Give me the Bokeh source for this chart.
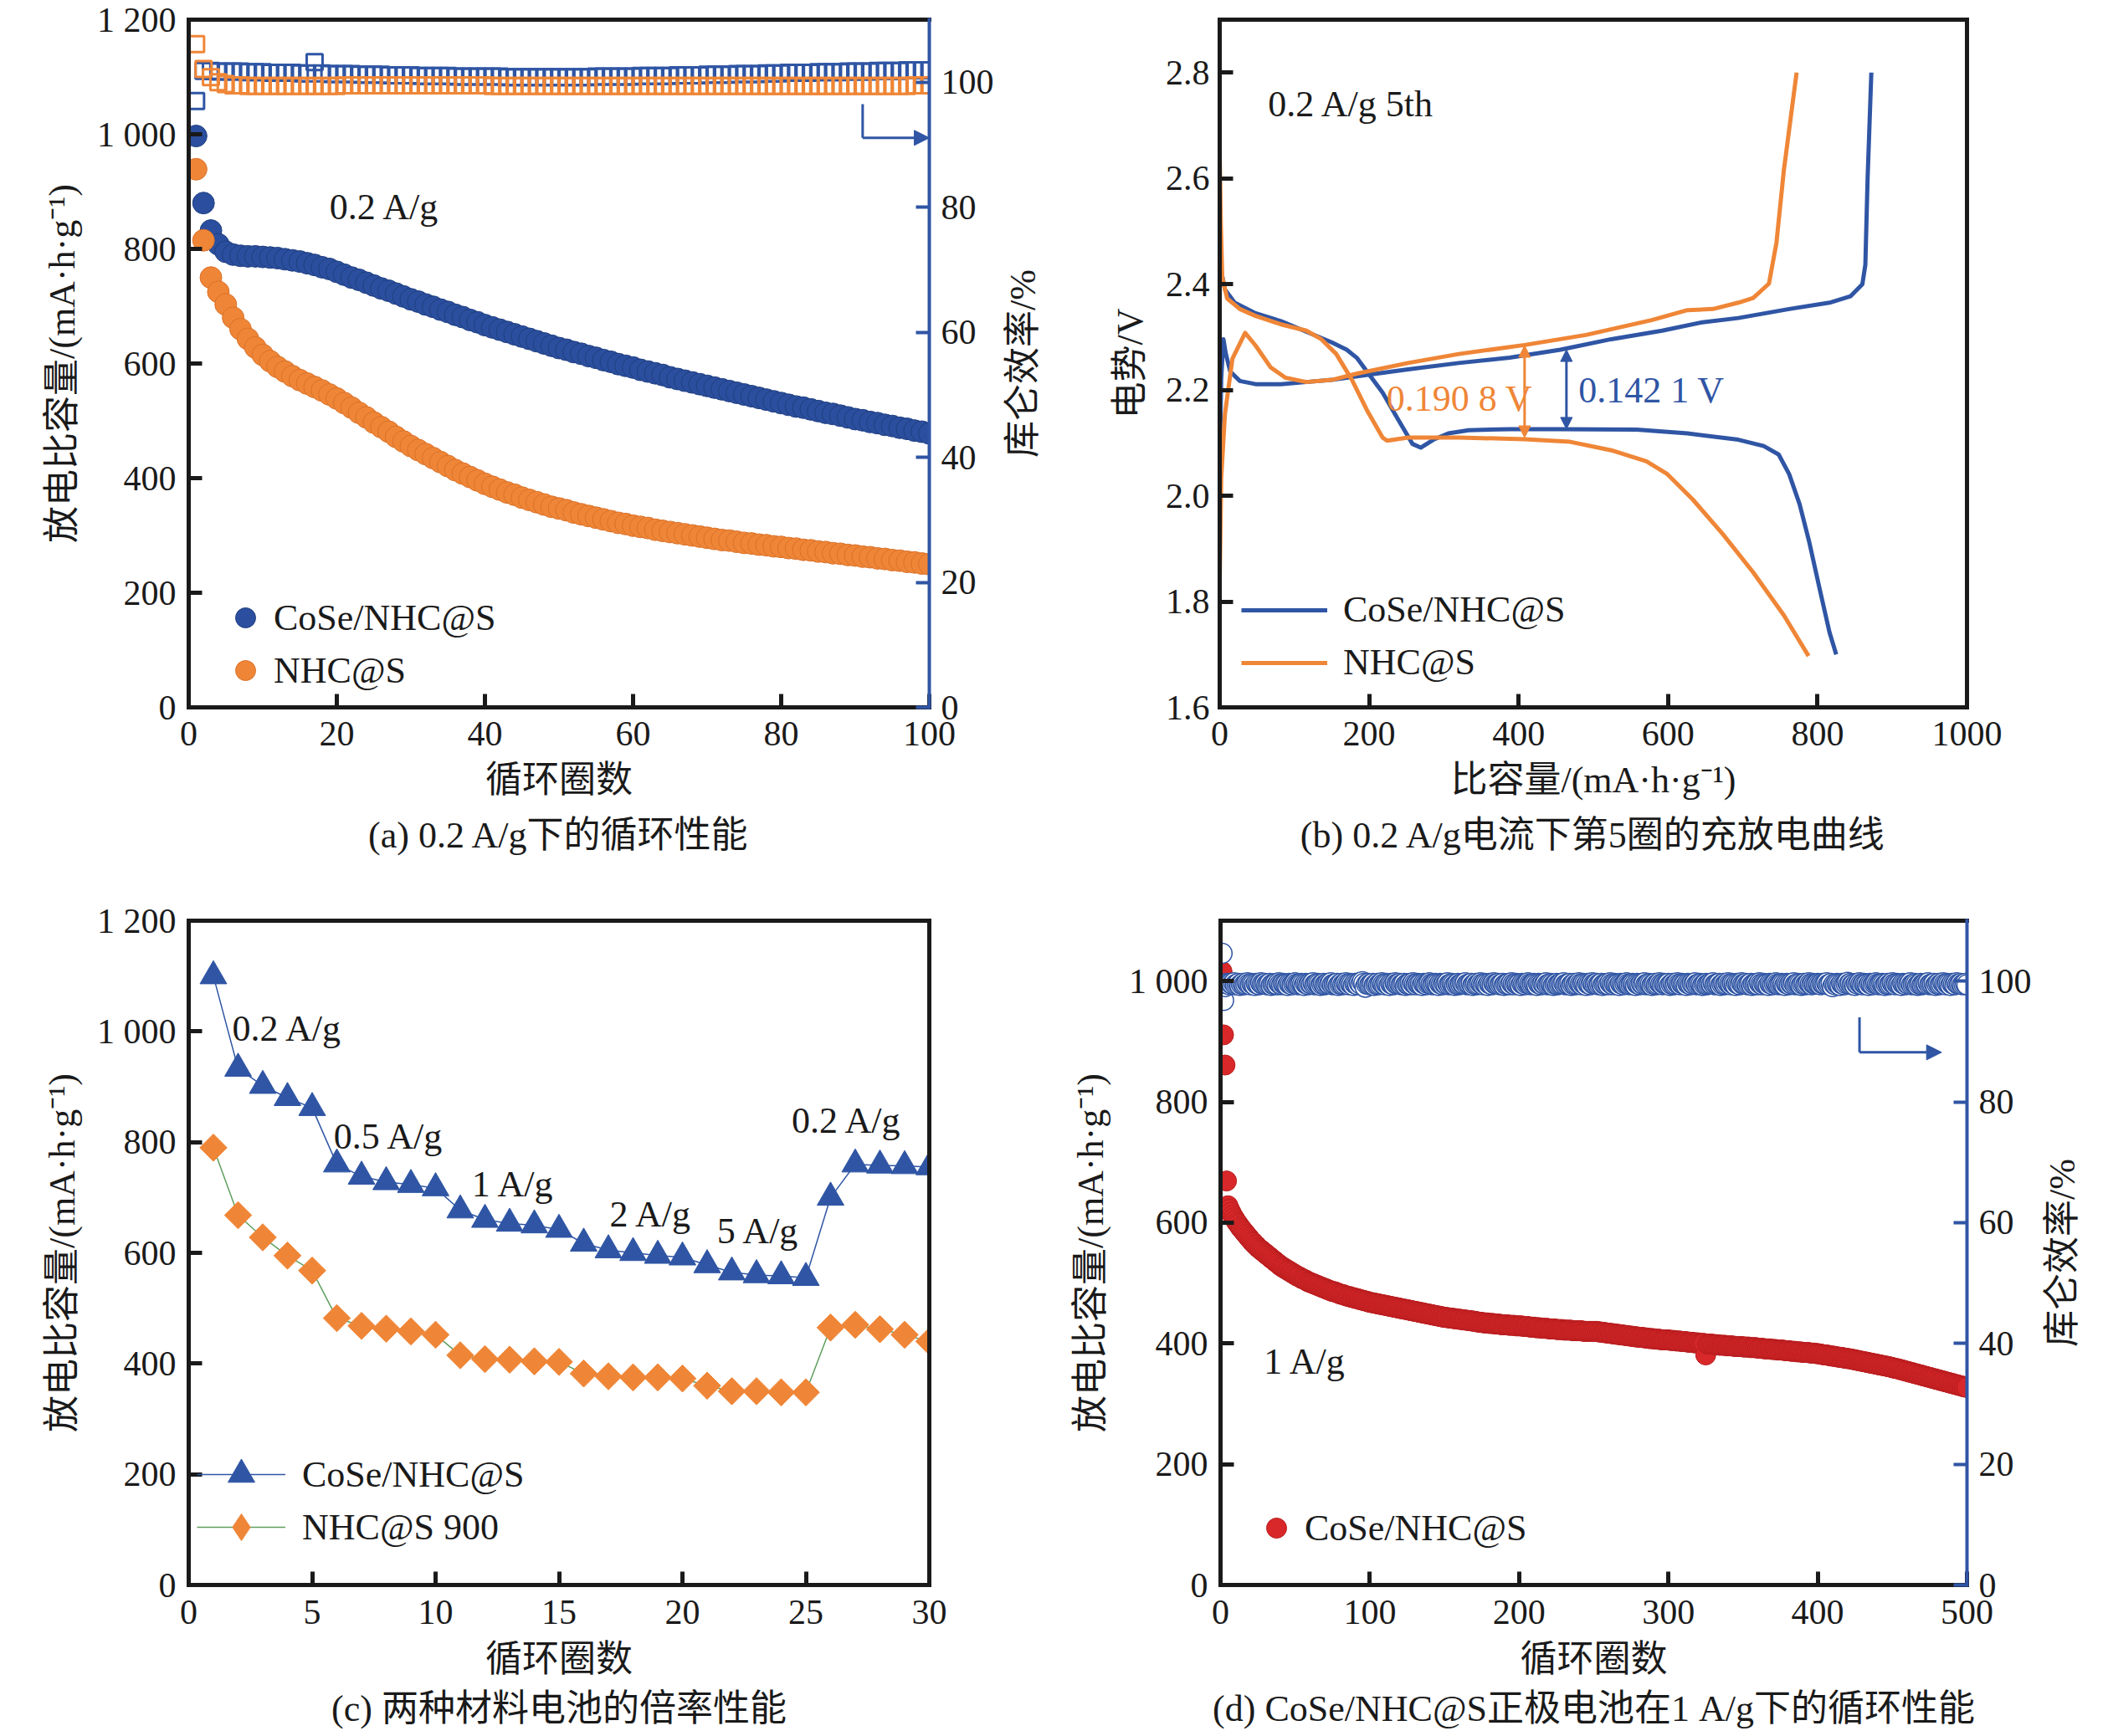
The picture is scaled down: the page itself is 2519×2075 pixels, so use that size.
import math
from bokeh.plotting import figure
from bokeh.models import (Range1d, LinearAxis, FixedTicker, Legend, LegendItem,
                          Label, Arrow, NormalHead, Title, NumeralTickFormatter)
from bokeh.layouts import row, column
from bokeh.embed import file_html
from bokeh.resources import INLINE

FONT = "Liberation Serif, Noto Sans CJK SC"
FS_TICK = "42px"
FS = "44px"
INK = "#1a1a1a"
BLUE = "#2b4f9e"
BLUE_L = "#2f55a4"
ORANGE = "#ef8637"
RED = "#d9282a"
GREEN = "#5e9f5e"


def nums(s):
    return [float(v) for v in s.split()]


# ---------------- (a) cycling at 0.2 A/g ----------------
CAP_A_CO = nums("""
997 880 832 808 795 790 788 787 787 786
785 784 782 780 778 775 772 768 765 760
755 750 746 741 736 731 727 722 717 712
708 703 699 694 690 685 681 676 672 667
663 659 655 651 647 643 639 635 631 627
624 620 617 613 610 606 603 599 596 593
589 586 583 580 576 573 570 567 564 561
558 555 552 549 546 543 540 537 534 531
528 525 523 520 517 514 512 509 506 503
501 498 496 493 491 488 486 483 481 478
""")
CAP_A_NHC = nums("""
939 815 750 725 703 680 660 643 628 615
604 594 586 578 571 565 559 553 546 539
531 523 514 506 497 489 481 472 464 456
449 442 435 428 421 414 408 402 396 390
385 380 375 371 366 362 358 354 350 347
344 340 337 334 331 328 325 322 320 317
315 313 310 308 306 304 302 300 298 296
294 292 291 289 287 286 284 283 281 280
278 277 275 274 272 271 269 268 266 265
263 262 260 259 257 256 254 253 251 250
""")
CE_A_CO = nums("""
97.0 101.8 101.8 101.7 101.7 101.7 101.7 101.6 101.6 101.6
101.5 101.5 101.5 101.5 101.4 101.4 103.2 101.4 101.3 101.3
101.3 101.3 101.2 101.2 101.2 101.2 101.1 101.1 101.1 101.1
101.0 101.0 101.0 101.0 101.0 100.9 100.9 100.9 100.9 100.9
100.9 100.9 100.8 100.8 100.8 100.8 100.8 100.8 100.8 100.8
100.8 100.8 100.8 100.8 100.9 100.9 100.9 100.9 100.9 100.9
101.0 101.0 101.0 101.0 101.0 101.1 101.1 101.1 101.1 101.2
101.2 101.2 101.2 101.3 101.3 101.3 101.3 101.4 101.4 101.4
101.5 101.5 101.5 101.5 101.6 101.6 101.6 101.6 101.7 101.7
101.7 101.7 101.8 101.8 101.8 101.8 101.9 101.9 101.9 101.9
""")
CE_A_NHC = nums("""
106.1 102.1 100.8 100.0 99.7 99.5 99.5 99.4 99.4 99.4
99.4 99.4 99.4 99.4 99.4 99.4 99.4 99.4 99.4 99.4
99.5 99.5 99.5 99.5 99.5 99.5 99.5 99.5 99.5 99.5
99.5 99.5 99.5 99.5 99.5 99.5 99.5 99.5 99.5 99.5
99.4 99.4 99.4 99.4 99.4 99.4 99.4 99.4 99.4 99.4
99.4 99.4 99.4 99.4 99.4 99.4 99.4 99.4 99.4 99.4
99.4 99.4 99.4 99.4 99.4 99.4 99.4 99.4 99.4 99.4
99.4 99.4 99.4 99.4 99.4 99.4 99.4 99.4 99.4 99.4
99.4 99.4 99.4 99.4 99.4 99.4 99.4 99.4 99.4 99.4
99.4 99.4 99.4 99.4 99.4 99.4 99.4 99.5 99.5 99.5
""")
CYC_A = list(range(1, len(CAP_A_CO) + 1))

# ---------------- (b) 5th charge/discharge at 0.2 A/g ----------------
CO_DIS_Q = [0, 7, 20, 48, 82, 116, 150, 170, 184, 197, 218, 238, 258, 269, 286,
            306, 333, 388, 456, 558, 626, 694, 728, 748, 762, 776, 789, 803, 816, 825]
CO_DIS_V = [2.44, 2.39, 2.365, 2.345, 2.33, 2.31, 2.29, 2.276, 2.26, 2.235, 2.195,
            2.146, 2.098, 2.091, 2.106, 2.118, 2.124, 2.126, 2.126, 2.125, 2.118,
            2.106, 2.094, 2.078, 2.041, 1.984, 1.912, 1.823, 1.742, 1.70]
CO_CHG_Q = [0, 2, 5, 8, 14, 27, 48, 82, 116, 150, 184, 252, 320, 388, 456, 524,
            592, 646, 694, 762, 816, 844, 860, 864, 867, 872]
CO_CHG_V = [2.05, 2.22, 2.296, 2.27, 2.235, 2.217, 2.211, 2.211, 2.215, 2.219,
            2.226, 2.239, 2.251, 2.261, 2.276, 2.296, 2.312, 2.328, 2.336, 2.353,
            2.365, 2.377, 2.40, 2.437, 2.6, 2.8]
NHC_DIS_Q = [0, 1.4, 3.4, 10, 27, 48, 82, 116, 136, 156, 177, 197, 218, 224, 252,
             320, 408, 469, 524, 571, 599, 633, 673, 714, 755, 788]
NHC_DIS_V = [2.648, 2.52, 2.413, 2.373, 2.353, 2.34, 2.324, 2.312, 2.296, 2.268,
             2.219, 2.162, 2.11, 2.104, 2.11, 2.11, 2.107, 2.102, 2.086, 2.065,
             2.041, 1.993, 1.928, 1.855, 1.774, 1.697]
NHC_CHG_Q = [0, 2, 7, 17, 34, 48, 68, 88, 116, 150, 184, 252, 320, 408, 490, 578,
             626, 660, 694, 714, 735, 745, 755, 772]
NHC_CHG_V = [1.839, 2.033, 2.154, 2.259, 2.308, 2.284, 2.243, 2.223, 2.215, 2.219,
             2.231, 2.251, 2.268, 2.285, 2.304, 2.332, 2.351, 2.353, 2.365, 2.374,
             2.401, 2.478, 2.616, 2.8]
GAP_NHC = (408, 2.11, 2.284)   # x, low, high of the orange gap marker
GAP_CO = (464, 2.126, 2.276)

# ---------------- (c) rate performance ----------------
CYC_C = list(range(1, 31))
RATE_CO = [1100, 933, 902, 880, 862, 760, 738, 728, 723, 717,
           677, 660, 653, 650, 642, 617, 605, 600, 595, 592,
           578, 565, 560, 558, 555, 700, 760, 758, 757, 755]
RATE_NHC = [790, 668, 628, 595, 568, 482, 468, 463, 458, 452,
            415, 408, 407, 404, 403, 382, 377, 375, 375, 373,
            360, 350, 350, 348, 348, 465, 470, 462, 452, 440]
RATE_LABELS = ["0.2 A/g", "0.5 A/g", "1 A/g", "2 A/g", "5 A/g", "0.2 A/g"]
RATE_LABEL_X = [1.76, 5.87, 11.47, 17.05, 21.4, 24.42]
RATE_LABEL_Y = [1005, 810, 724, 669, 639, 839]

# ---------------- (d) long cycling at 1 A/g ----------------
CAP_D = nums("""
1016 911 861 669 628 622 617 612 608 604
600 597 593 590 587 584 581 578 575 572
569 567 564 562 559 557 555 553 551 549
547 545 543 541 539 537 535 533 531 529
527 526 524 523 521 520 518 517 515 514
512 511 510 508 507 506 505 503 502 501
500 499 498 497 496 495 494 493 492 491
490 489 488 487 486 486 485 484 483 482
481 481 480 479 478 478 477 476 476 475
474 474 473 472 472 471 470 470 469 468
468 467 467 466 466 465 465 464 464 463
463 462 462 461 461 460 460 459 459 458
458 457 457 456 456 455 455 454 454 453
453 452 452 451 451 450 450 449 449 448
448 447 447 446 446 445 445 444 444 443
443 443 442 442 442 441 441 441 440 440
440 439 439 439 438 438 438 437 437 437
436 436 435 435 435 434 434 434 434 433
433 433 433 432 432 432 432 431 431 431
431 431 430 430 430 430 430 429 429 429
429 429 428 428 428 428 427 427 427 427
426 426 426 426 425 425 425 425 425 424
424 424 424 424 423 423 423 423 423 422
422 422 422 422 422 421 421 421 421 421
421 421 420 420 420 420 420 420 420 420
420 420 419 419 419 418 418 418 417 417
417 416 416 416 415 415 415 414 414 414
413 413 413 412 412 412 411 411 411 410
410 410 410 409 409 409 408 408 408 408
407 407 407 407 406 406 406 406 406 406
405 405 405 405 404 404 404 404 403 403
403 403 402 402 402 402 401 401 401 401
400 400 400 400 381 399 399 399 399 398
398 398 398 397 397 397 397 397 396 396
396 396 396 395 395 395 395 395 395 394
394 394 394 394 393 393 393 393 393 392
392 392 392 391 391 391 391 391 390 390
390 390 389 389 389 389 389 388 388 388
388 387 387 387 387 386 386 386 386 385
385 385 385 385 384 384 384 384 383 383
383 382 382 381 381 381 380 380 379 379
379 378 378 377 377 377 376 376 375 375
375 374 374 373 373 372 372 371 371 370
370 369 369 368 368 367 367 366 366 365
365 364 364 363 363 362 362 361 361 360
359 359 358 358 357 356 356 355 354 354
353 352 352 351 350 350 349 348 348 347
346 346 345 344 344 343 342 342 341 340
340 339 338 338 337 336 336 335 334 334
333 332 332 331 330 330 329 328 328 327
""")
CE_D = nums("""
104.6 96.8 99.1 99.6 99.5 99.4 99.6 99.5 99.7 99.4 99.5 99.6 99.3 99.5 99.6 99.4 99.5 99.7 99.5 99.4
99.6 99.5 99.3 99.6 99.5 99.4 99.7 99.5 99.5 99.6 99.4 99.5 99.6 99.3 99.5 99.5 99.6 99.4 99.7 99.5
99.4 99.6 99.5 99.5 99.3 99.6 99.5 99.4 99.6 99.7 99.5 99.4 99.5 99.6 99.5 99.3 99.6 99.5 99.4 99.6
99.5 99.7 99.4 99.5 99.6 99.5 99.3 99.5 99.6 99.4 99.5 99.6 99.5 99.7 99.4 99.5 99.5 99.6 99.3 99.5
99.6 99.4 99.5 99.7 99.5 99.4 99.6 99.5 99.3 99.6 99.5 99.4 99.7 99.5 99.9 99.6 99.0 99.5 99.6 99.4
99.5 99.6 99.3 99.5 99.6 99.4 99.5 99.7 99.5 99.4 99.6 99.5 99.3 99.6 99.5 99.4 99.7 99.5 99.5 99.6
99.4 99.5 99.6 99.3 99.5 99.5 99.6 99.4 99.7 99.5 99.4 99.6 99.5 99.5 99.3 99.6 99.5 99.4 99.6 99.7
99.5 99.4 99.5 99.6 99.5 99.3 99.6 99.5 99.4 99.6 99.5 99.7 99.4 99.5 99.6 99.5 99.3 99.5 99.6 99.4
99.5 99.6 99.5 99.7 99.4 99.5 99.5 99.6 99.3 99.5 99.6 99.4 99.5 99.7 99.5 99.4 99.6 99.5 99.3 99.6
99.5 99.4 99.7 99.5 99.5 99.6 99.4 99.5 99.6 99.3 99.5 99.5 99.6 99.4 99.7 99.5 99.4 99.6 99.5 99.5
99.3 99.6 99.5 99.4 99.6 99.7 99.5 99.4 99.5 99.6 99.5 99.3 99.6 99.5 99.4 99.6 99.5 99.7 99.4 99.5
99.6 99.5 99.3 99.5 99.6 99.4 99.5 99.6 99.5 99.7 99.4 99.5 99.5 99.6 99.3 99.5 99.6 99.4 99.5 99.7
99.5 99.4 99.6 99.5 99.3 99.6 99.5 99.4 99.7 99.5 99.5 99.6 99.4 99.5 99.6 99.3 99.5 99.5 99.6 99.4
99.7 99.5 99.4 99.6 99.5 99.5 99.3 99.6 99.5 99.4 99.6 99.7 99.5 99.4 99.5 99.6 99.5 99.3 99.6 99.5
99.4 99.6 99.5 99.7 99.4 99.5 99.6 99.5 99.3 99.5 99.6 99.4 99.5 99.7 99.5 99.4 99.6 99.5 99.5 99.6
99.3 99.5 99.6 99.4 99.5 99.7 99.5 99.4 99.6 99.5 99.5 99.3 99.6 99.5 99.4 99.6 99.5 99.7 99.4 99.5
99.6 99.5 99.3 99.5 99.6 99.4 99.5 99.6 99.5 99.7 99.4 99.5 99.5 99.6 99.3 99.5 99.6 99.4 99.5 99.7
99.5 99.4 99.6 99.5 99.3 99.6 99.5 99.4 99.7 99.5 99.5 99.6 99.4 99.5 99.6 99.3 99.5 99.5 99.6 99.4
99.7 99.5 99.4 99.6 99.5 99.5 99.3 99.6 99.5 99.4 99.6 99.7 99.5 99.4 99.5 99.6 99.5 99.3 99.6 99.5
99.4 99.6 99.5 99.7 99.4 99.5 99.6 99.5 99.3 99.5 99.6 99.4 99.5 99.7 99.5 99.4 99.6 99.5 99.5 99.6
99.5 99.4 99.6 99.5 99.5 99.7 99.4 99.5 99.6 99.1 99.5 99.4 99.6 99.5 99.3 99.6 99.5 99.4 99.6 99.8
99.5 99.6 99.4 99.5 99.3 99.6 99.5 99.7 99.5 99.4 99.6 99.5 99.5 99.3 99.6 99.5 99.4 99.6 99.7 99.5
99.4 99.5 99.6 99.5 99.3 99.5 99.6 99.4 99.5 99.7 99.5 99.4 99.6 99.5 99.5 99.3 99.6 99.5 99.4 99.6
99.5 99.7 99.4 99.5 99.6 99.5 99.3 99.5 99.6 99.4 99.5 99.6 99.5 99.7 99.4 99.5 99.5 99.6 99.3 99.5
99.6 99.4 99.5 99.7 99.5 99.4 99.6 99.5 99.3 99.6 99.5 99.4 99.7 99.5 99.5 99.6 99.4 99.5 99.6 99.4
""")
CYC_D_CAP = list(range(1, len(CAP_D) + 1))
CYC_D_CE = list(range(1, len(CE_D) + 1))

YLAB_CAP = "放电比容量/(mA·h·g⁻¹)"
YLAB_CE = "库仑效率/%"
XLAB_CYC = "循环圈数"


# ---------------- helpers ----------------
def make_fig(w, h, xr, yr, bl, br, bt, bb):
    p = figure(width=w, height=h, x_range=Range1d(*xr), y_range=Range1d(*yr),
               output_backend="svg", toolbar_location=None,
               min_border_left=bl, min_border_right=br,
               min_border_top=bt, min_border_bottom=bb)
    p.outline_line_color = None
    p.xgrid.visible = False
    p.ygrid.visible = False
    p.background_fill_color = "white"
    p.border_fill_color = "white"
    return p


def style_axis(ax, ticks, label="", color=INK, lw=5, overrides=None,
               lab_standoff=12, title_standoff=10, fmt=None):
    ax.ticker = FixedTicker(ticks=ticks)
    ax.axis_line_color = color
    ax.axis_line_width = lw
    ax.axis_line_cap = "square"
    ax.major_tick_line_color = color
    ax.major_tick_line_width = lw
    ax.major_tick_in = 16
    ax.major_tick_out = 0
    ax.minor_tick_line_color = None
    ax.major_label_text_font = FONT
    ax.major_label_text_font_size = FS_TICK
    ax.major_label_text_color = INK
    ax.major_label_standoff = lab_standoff
    ax.axis_label = label
    ax.axis_label_text_font = FONT
    ax.axis_label_text_font_size = FS
    ax.axis_label_text_font_style = "normal"
    ax.axis_label_text_color = INK
    ax.axis_label_standoff = title_standoff
    if overrides:
        ax.major_label_overrides = overrides
    if fmt is not None:
        ax.formatter = fmt


def edge(p, side, color=INK, lw=5, **kw):
    ax = LinearAxis(ticker=FixedTicker(ticks=[]), axis_line_color=color,
                    axis_line_width=lw, axis_line_cap="square",
                    major_tick_line_color=None, minor_tick_line_color=None,
                    major_label_text_font_size="0px", **kw)
    p.add_layout(ax, side)
    return ax


def right_axis(p, color=BLUE_L):
    ax = LinearAxis(y_range_name="ce")
    style_axis(ax, [0, 20, 40, 60, 80, 100], label="", color=color, lw=4,
               lab_standoff=14)
    p.add_layout(ax, "right")
    return ax


def label_strip(w, h, bl, br, bt, bb, text, standoff):
    """Narrow strip whose (left-side) axis title reads bottom-to-top, used as
    the title of the right-hand efficiency axis of the panel to its left."""
    q = figure(width=w, height=h, x_range=Range1d(0, 1), y_range=Range1d(0, 1),
               output_backend="svg", toolbar_location=None,
               min_border_left=bl, min_border_right=br,
               min_border_top=bt, min_border_bottom=bb)
    q.outline_line_color = None
    q.xgrid.visible = False
    q.ygrid.visible = False
    q.xaxis.visible = False
    q.background_fill_color = "white"
    q.border_fill_color = "white"
    ax = q.yaxis[0]
    ax.ticker = FixedTicker(ticks=[])
    ax.axis_line_color = None
    ax.major_tick_line_color = None
    ax.minor_tick_line_color = None
    ax.major_label_text_font_size = "0px"
    ax.major_label_standoff = 0
    ax.axis_label = text
    ax.axis_label_text_font = FONT
    ax.axis_label_text_font_size = FS
    ax.axis_label_text_font_style = "normal"
    ax.axis_label_text_color = INK
    ax.axis_label_standoff = standoff
    return q


def add_label(p, x, y, text, color=INK, align="left", rng="default"):
    p.add_layout(Label(x=x, y=y, text=text, text_font=FONT, text_font_size=FS,
                       text_color=color, text_align=align, text_baseline="middle",
                       y_range_name=rng))


def caption(p, text, standoff):
    p.add_layout(Title(text=text, align="center", text_font=FONT,
                       text_font_size=FS, text_font_style="normal",
                       text_color=INK, standoff=standoff), "below")


def legend(p, items, loc, gw, gh, spacing, standoff):
    lg = Legend(items=[LegendItem(label=l, renderers=r) for l, r in items],
                location=loc, orientation="vertical", glyph_width=gw,
                glyph_height=gh, label_height=gh, spacing=spacing, padding=0,
                margin=0, border_line_color=None, background_fill_alpha=0,
                label_text_font=FONT, label_text_font_size=FS,
                label_text_color=INK, label_standoff=standoff,
                label_text_baseline="middle")
    p.add_layout(lg)


CAP_TICKS = [0, 200, 400, 600, 800, 1000, 1200]
CAP_OVR = {1000: "1 000", 1200: "1 200"}

# ---------------- panel (a) ----------------
pa = make_fig(1196, 1034, (0, 100), (0, 1200), 225, 86, 23, 189)
pa.extra_y_ranges = {"ce": Range1d(0, 110)}
style_axis(pa.xaxis[0], [0, 20, 40, 60, 80, 100], XLAB_CYC, lab_standoff=17, title_standoff=14)
style_axis(pa.yaxis[0], CAP_TICKS, YLAB_CAP, overrides=CAP_OVR, lab_standoff=15, title_standoff=14)
edge(pa, "above")
right_axis(pa)
caption(pa, "(a) 0.2 A/g下的循环性能", 24)

pa.scatter(CYC_A, CE_A_CO, y_range_name="ce", marker="square", size=19,
           fill_color=None, line_color=BLUE_L, line_width=3)
pa.scatter(CYC_A, CE_A_NHC, y_range_name="ce", marker="square", size=19,
           fill_color=None, line_color=ORANGE, line_width=3)
ra1 = pa.scatter(CYC_A, CAP_A_CO, marker="circle", size=26, fill_color=BLUE,
                 line_color="#213f80", line_width=1)
ra2 = pa.scatter(CYC_A, CAP_A_NHC, marker="circle", size=26, fill_color=ORANGE,
                 line_color="#d9712a", line_width=1)
add_label(pa, 19.0, 873, "0.2 A/g")
pa.add_layout(Arrow(end=None, x_start=91, y_start=96.5, x_end=91, y_end=91.1,
                    line_color=BLUE_L, line_width=3, y_range_name="ce"))
pa.add_layout(Arrow(end=NormalHead(size=18, fill_color=BLUE_L, line_color=BLUE_L),
                    x_start=91, y_start=91.1, x_end=100, y_end=91.1,
                    line_color=BLUE_L, line_width=3, y_range_name="ce"))
legend(pa, [("CoSe/NHC@S", [ra1]), ("NHC@S", [ra2])], (38, 14), 60, 60, 3, 4)
pa_title = label_strip(62, 1034, 57, 2, 23, 189, YLAB_CE, 10)

# ---------------- panel (b) ----------------
pb = make_fig(1258, 1034, (0, 1000), (1.6, 2.9), 199, 166, 23, 189)
style_axis(pb.xaxis[0], [0, 200, 400, 600, 800, 1000], "比容量/(mA·h·g⁻¹)",
           lab_standoff=17, title_standoff=14)
style_axis(pb.yaxis[0], [1.6, 1.8, 2.0, 2.2, 2.4, 2.6, 2.8], "电势/V",
           lab_standoff=12, title_standoff=15, fmt=NumeralTickFormatter(format="0.0"))
edge(pb, "above")
edge(pb, "right")
caption(pb, "(b) 0.2 A/g电流下第5圈的充放电曲线", 24)

rb1 = pb.line(CO_DIS_Q, CO_DIS_V, line_color=BLUE_L, line_width=5, line_join="round")
pb.line(CO_CHG_Q, CO_CHG_V, line_color=BLUE_L, line_width=5, line_join="round")
rb2 = pb.line(NHC_DIS_Q, NHC_DIS_V, line_color=ORANGE, line_width=5, line_join="round")
pb.line(NHC_CHG_Q, NHC_CHG_V, line_color=ORANGE, line_width=5, line_join="round")
for (gx, glo, ghi), col in ((GAP_NHC, ORANGE), (GAP_CO, BLUE_L)):
    pb.add_layout(Arrow(start=NormalHead(size=14, fill_color=col, line_color=col),
                        end=NormalHead(size=14, fill_color=col, line_color=col),
                        x_start=gx, y_start=glo, x_end=gx, y_end=ghi,
                        line_color=col, line_width=3))
add_label(pb, 64.6, 2.741, "0.2 A/g 5th")
add_label(pb, 223, 2.183, "0.190 8 V", color=ORANGE)
add_label(pb, 480, 2.200, "0.142 1 V", color=BLUE_L)
legend(pb, [("CoSe/NHC@S", [rb1]), ("NHC@S", [rb2])], (26, 28), 103, 48, 12, 19)

# ---------------- panel (c) ----------------
pc = make_fig(1258, 1040, (0, 30), (0, 1200), 225, 148, 66, 180)
style_axis(pc.xaxis[0], [0, 5, 10, 15, 20, 25, 30], XLAB_CYC, lab_standoff=18, title_standoff=15)
style_axis(pc.yaxis[0], CAP_TICKS, YLAB_CAP, overrides=CAP_OVR, lab_standoff=15, title_standoff=14)
edge(pc, "above")
edge(pc, "right")
caption(pc, "(c) 两种材料电池的倍率性能", 11)

lc1 = pc.line(CYC_C, RATE_CO, line_color=BLUE_L, line_width=1.5)
mc1 = pc.scatter(CYC_C, RATE_CO, marker="triangle", size=32, fill_color=BLUE_L,
                 line_color=BLUE_L)
lc2 = pc.line(CYC_C, RATE_NHC, line_color=GREEN, line_width=1.5)
# narrow diamonds hidden under the rotated squares; they serve as the legend glyph
mc2_key = pc.scatter(CYC_C, RATE_NHC, marker="diamond", size=31, fill_color=ORANGE,
                     line_color=ORANGE)
pc.scatter(CYC_C, RATE_NHC, marker="square", angle=math.pi / 4, size=23,
           fill_color=ORANGE, line_color=ORANGE)
for t, x, y in zip(RATE_LABELS, RATE_LABEL_X, RATE_LABEL_Y):
    add_label(pc, x, y, t)
legend(pc, [("CoSe/NHC@S", [lc1, mc1])], (10, 92), 106, 80, 0, 20)
legend(pc, [("NHC@S 900", [lc2, mc2_key])], (10, 29), 106, 80, 0, 20)

# ---------------- panel (d) ----------------
pd_ = make_fig(1178, 1040, (0, 500), (0, 1100), 200, 86, 66, 180)
pd_.extra_y_ranges = {"ce": Range1d(0, 110)}
style_axis(pd_.xaxis[0], [0, 100, 200, 300, 400, 500], XLAB_CYC, lab_standoff=18, title_standoff=15)
style_axis(pd_.yaxis[0], [0, 200, 400, 600, 800, 1000], YLAB_CAP, overrides={1000: "1 000"},
           lab_standoff=15, title_standoff=18)
edge(pd_, "above")
right_axis(pd_)
caption(pd_, "(d) CoSe/NHC@S正极电池在1 A/g下的循环性能", 11)

rd = pd_.scatter(CYC_D_CAP, CAP_D, marker="circle", size=24, fill_color=RED,
                 line_color="#b81d1f", line_width=1)
pd_.scatter(CYC_D_CE, CE_D, y_range_name="ce", marker="circle", size=24,
            fill_color="white", line_color=BLUE_L, line_width=1.5)
add_label(pd_, 29, 370, "1 A/g")
pd_.add_layout(Arrow(end=None, x_start=428, y_start=94, x_end=428, y_end=88.2,
                     line_color=BLUE_L, line_width=3, y_range_name="ce"))
pd_.add_layout(Arrow(end=NormalHead(size=18, fill_color=BLUE_L, line_color=BLUE_L),
                     x_start=428, y_start=88.2, x_end=483, y_end=88.2,
                     line_color=BLUE_L, line_width=3, y_range_name="ce"))
legend(pd_, [("CoSe/NHC@S", [rd])], (37, 38), 60, 60, 3, 4)
pd_title = label_strip(80, 1040, 62, 2, 66, 180, YLAB_CE, 12)

layout = column(row(pa, pa_title, pb), row(pc, pd_, pd_title))
open("out.html", "w").write(file_html(layout, INLINE))
